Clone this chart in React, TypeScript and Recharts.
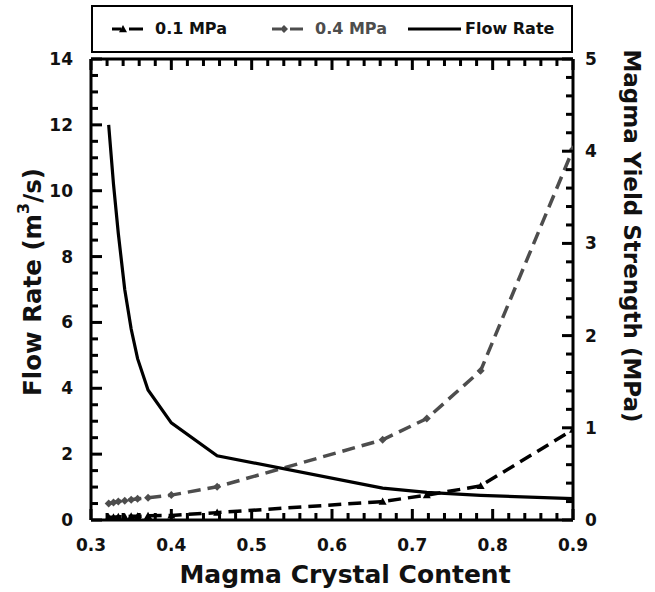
import React from 'react';
import { LineChart, Line, XAxis, YAxis, ReferenceLine } from 'recharts';

// ---- data ----
const crystalContent = [0.322, 0.328, 0.334, 0.342, 0.35, 0.358, 0.371, 0.4, 0.457, 0.663, 0.718, 0.785, 0.9];
const flowRate = [12.0, 10.2, 8.7, 7.0, 5.8, 4.9, 3.95, 2.95, 1.95, 0.97, 0.84, 0.75, 0.65];
const yield01 = [0.03, 0.03, 0.035, 0.035, 0.04, 0.04, 0.045, 0.05, 0.08, 0.2, 0.27, 0.37, 0.98];
const yield04 = [0.18, 0.19, 0.2, 0.21, 0.22, 0.23, 0.24, 0.27, 0.36, 0.87, 1.1, 1.62, 4.02];

const xMajorTicks = [0.3, 0.4, 0.5, 0.6, 0.7, 0.8, 0.9];
const leftMajorTicks = [0, 2, 4, 6, 8, 10, 12, 14];
const rightMajorTicks = [0, 1, 2, 3, 4, 5];

const seriesNames = ['0.1 MPa', '0.4 MPa', 'Flow Rate'];
const xTitle = 'Magma Crystal Content';
const leftTitle = 'Flow Rate (m';
const rightTitle = 'Magma Yield Strength (MPa)';

const X_MIN = 0.3;
const X_MAX = 0.9;
const L_MAX = 14;
const R_MAX = 5;

const xTicks = Array.from({ length: 31 }, (_, i) => Math.round((0.3 + i * 0.02) * 1000) / 1000);
const leftTicks = Array.from({ length: 29 }, (_, i) => i * 0.5);
const rightTicks = Array.from({ length: 26 }, (_, i) => Math.round(i * 0.2 * 100) / 100);

const data = crystalContent.map((x, i) => ({
  x,
  flow: flowRate[i],
  y01: yield01[i],
  y04: yield04[i],
}));

// ---- layout ----
const W = 655;
const H = 592;
const LEFT_W = 91;
const RIGHT_W = 82;
const PLOT_TOP = 59;
const BOTTOM_H = 72;
const PLOT_LEFT = LEFT_W;
const PLOT_RIGHT = W - RIGHT_W;
const PLOT_BOTTOM = H - BOTTOM_H;

const FONT = '"DejaVu Sans", Verdana, sans-serif';
const GRAY = '#4d4d4d';
const TICK_FS = 17;
const MINOR = 7;
const MAJOR = 11;
const TW = 3;

const isMajor = (v: number, arr: number[]) => arr.some((m) => Math.abs(m - v) < 1e-6);

// same linear mapping as the chart's plot box, used only for the frame tick marks
const px = (v: number) => PLOT_LEFT + ((v - X_MIN) / (X_MAX - X_MIN)) * (PLOT_RIGHT - PLOT_LEFT);
const pyL = (v: number) => PLOT_BOTTOM - (v / L_MAX) * (PLOT_BOTTOM - PLOT_TOP);
const pyR = (v: number) => PLOT_BOTTOM - (v / R_MAX) * (PLOT_BOTTOM - PLOT_TOP);

const BottomTick = (props: any) => {
  const { x, y, payload } = props;
  const v = payload.value as number;
  if (!isMajor(v, xMajorTicks)) return <g />;
  return (
    <text x={x} y={y + 25} textAnchor="middle" dominantBaseline="central" fontFamily={FONT} fontWeight="bold" fontSize={TICK_FS} fill="#111">
      {v.toFixed(1)}
    </text>
  );
};

const LeftTick = (props: any) => {
  const { x, y, payload } = props;
  const v = payload.value as number;
  if (!isMajor(v, leftMajorTicks)) return <g />;
  return (
    <text x={x - 18} y={y} textAnchor="end" dominantBaseline="central" fontFamily={FONT} fontWeight="bold" fontSize={TICK_FS} fill="#111">
      {v}
    </text>
  );
};

const RightTick = (props: any) => {
  const { x, y, payload } = props;
  const v = payload.value as number;
  if (!isMajor(v, rightMajorTicks)) return <g />;
  return (
    <text x={x + 12} y={y} textAnchor="start" dominantBaseline="central" fontFamily={FONT} fontWeight="bold" fontSize={TICK_FS} fill="#111">
      {v}
    </text>
  );
};

const triPath = (cx: number, cy: number, s: number) =>
  `M${cx},${cy - s} L${cx + s},${cy + s * 0.8} L${cx - s},${cy + s * 0.8} Z`;
const diaPath = (cx: number, cy: number, s: number) =>
  `M${cx},${cy - s} L${cx + s},${cy} L${cx},${cy + s} L${cx - s},${cy} Z`;

const TriDot = (props: any) => {
  const { cx, cy, index } = props;
  if (cx == null || cy == null) return <g key={`t${index}`} />;
  return <path key={`t${index}`} d={triPath(cx, cy, 4)} fill="#000" />;
};
const DiaDot = (props: any) => {
  const { cx, cy, index } = props;
  if (cx == null || cy == null) return <g key={`d${index}`} />;
  return <path key={`d${index}`} d={diaPath(cx, cy, 4)} fill={GRAY} />;
};

const legendText: React.CSSProperties = {
  position: 'absolute',
  top: 12,
  fontFamily: FONT,
  fontWeight: 'bold',
  fontSize: 16,
  lineHeight: '20px',
  whiteSpace: 'nowrap',
};

const axisLineStyle = { stroke: '#000', strokeWidth: 3 };

export default function App() {
  return (
    <div style={{ position: 'absolute', left: 0, top: 0, width: W, height: H, background: '#fff' }}>
      <LineChart width={W} height={H} data={data} margin={{ top: PLOT_TOP, right: 0, bottom: 0, left: 0 }}>
        <XAxis
          dataKey="x"
          type="number"
          domain={[X_MIN, X_MAX]}
          ticks={xTicks}
          interval={0}
          allowDataOverflow
          height={BOTTOM_H}
          tickSize={0}
          tickMargin={0}
          tickLine={false}
          tick={<BottomTick />}
          axisLine={axisLineStyle}
        />
        <YAxis
          yAxisId="left"
          type="number"
          domain={[0, L_MAX]}
          ticks={leftTicks}
          interval={0}
          width={LEFT_W}
          tickSize={0}
          tickMargin={0}
          tickLine={false}
          tick={<LeftTick />}
          axisLine={axisLineStyle}
        />
        <YAxis
          yAxisId="right"
          orientation="right"
          type="number"
          domain={[0, R_MAX]}
          ticks={rightTicks}
          interval={0}
          width={RIGHT_W}
          tickSize={0}
          tickMargin={0}
          tickLine={false}
          tick={<RightTick />}
          axisLine={axisLineStyle}
        />
        <ReferenceLine yAxisId="left" y={L_MAX} stroke="#000" strokeWidth={3} />
        <Line
          yAxisId="right"
          dataKey="y04"
          stroke={GRAY}
          strokeWidth={3.5}
          strokeDasharray="13 7"
          dot={DiaDot}
          activeDot={false}
          isAnimationActive={false}
        />
        <Line
          yAxisId="right"
          dataKey="y01"
          stroke="#000"
          strokeWidth={3.5}
          strokeDasharray="13 7"
          dot={TriDot}
          activeDot={false}
          isAnimationActive={false}
        />
        <Line
          yAxisId="left"
          dataKey="flow"
          stroke="#000"
          strokeWidth={3.2}
          dot={false}
          activeDot={false}
          isAnimationActive={false}
        />
      </LineChart>

      {/* frame tick marks and axis titles */}
      <svg width={W} height={H} style={{ position: 'absolute', left: 0, top: 0, pointerEvents: 'none' }}>
        <g fill="#000">
          {xTicks.map((v) => {
            const len = isMajor(v, xMajorTicks) ? MAJOR : MINOR;
            return (
              <g key={`x${v}`}>
                <rect x={px(v) - TW / 2} y={PLOT_BOTTOM - len} width={TW} height={len} />
                <rect x={px(v) - TW / 2} y={PLOT_TOP} width={TW} height={len} />
              </g>
            );
          })}
          {leftTicks.map((v) => {
            const len = isMajor(v, leftMajorTicks) ? MAJOR : MINOR;
            return <rect key={`l${v}`} x={PLOT_LEFT} y={pyL(v) - TW / 2} width={len} height={TW} />;
          })}
          {rightTicks.map((v) => {
            const len = isMajor(v, rightMajorTicks) ? MAJOR : MINOR;
            return <rect key={`r${v}`} x={PLOT_RIGHT - len} y={pyR(v) - TW / 2} width={len} height={TW} />;
          })}
        </g>
        <text x={345} y={574} textAnchor="middle" dominantBaseline="central" fontFamily={FONT} fontWeight="bold" fontSize={25} fill="#111">
          {xTitle}
        </text>
        <text transform="translate(32,282) rotate(-90)" textAnchor="middle" dominantBaseline="central" fontFamily={FONT} fontWeight="bold" fontSize={24.5} fill="#111">
          {leftTitle}
          <tspan dy={-9} fontSize={16}>3</tspan>
          <tspan dy={9}>/s)</tspan>
        </text>
        <text transform="translate(632,236) rotate(90)" textAnchor="middle" dominantBaseline="central" fontFamily={FONT} fontWeight="bold" fontSize={23} fill="#111">
          {rightTitle}
        </text>
      </svg>

      {/* legend */}
      <div
        style={{
          position: 'absolute',
          left: 91,
          top: 5,
          width: 482,
          height: 48,
          border: '2px solid #000',
          boxSizing: 'border-box',
          background: '#fff',
        }}
      >
        <svg width={478} height={44} style={{ position: 'absolute', left: 0, top: 0 }}>
          <line x1={19} x2={28} y1={22} y2={22} stroke="#000" strokeWidth={3} />
          <path d={triPath(30, 22, 4)} fill="#000" />
          <line x1={36} x2={50} y1={22} y2={22} stroke="#000" strokeWidth={3} />
          <line x1={179} x2={188} y1={22} y2={22} stroke={GRAY} strokeWidth={3} />
          <path d={diaPath(191, 22, 4)} fill={GRAY} />
          <line x1={197} x2={210} y1={22} y2={22} stroke={GRAY} strokeWidth={3} />
          <line x1={315} x2={368} y1={22} y2={22} stroke="#000" strokeWidth={3} />
        </svg>
        <div style={{ ...legendText, left: 62, color: '#111' }}>{seriesNames[0]}</div>
        <div style={{ ...legendText, left: 222, color: GRAY }}>{seriesNames[1]}</div>
        <div style={{ ...legendText, left: 372, color: '#111' }}>{seriesNames[2]}</div>
      </div>
    </div>
  );
}
